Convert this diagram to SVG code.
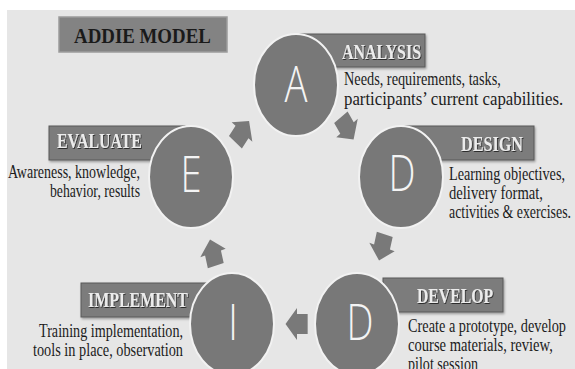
<svg xmlns="http://www.w3.org/2000/svg" xmlns:xlink="http://www.w3.org/1999/xlink" width="575" height="369" viewBox="0 0 575 369">
<style>
.bg{fill:#e6e6e6}
.box{fill:#7b7b7b;stroke:#5a5a5a;stroke-width:1}
.circ{fill:#787878;stroke:#f2f2f2;stroke-width:2}
.letter{font-family:"Open Sans","Noto Sans",sans-serif;font-weight:300;font-size:49px;fill:#f4f4f4;text-anchor:middle}
.lbl{font-family:"Liberation Serif","Times New Roman",serif;font-weight:bold;font-size:20px;fill:#ececec;filter:url(#ts)}
.desc{font-family:"Liberation Serif","Times New Roman",serif;font-size:18px;fill:#1c1c1c}
.arrow{fill:#797979}
</style>
<defs>
<filter id="ts" x="-10%" y="-30%" width="120%" height="160%">
<feDropShadow dx="1" dy="1" stdDeviation="0.6" flood-color="#222" flood-opacity="0.9"/>
</filter>
<filter id="bs" x="-10%" y="-20%" width="120%" height="150%">
<feDropShadow dx="1" dy="1.5" stdDeviation="1" flood-color="#000" flood-opacity="0.35"/>
</filter>
<path id="arr" d="M-13,-10 L0,-10 L0,-16 L14,0 L0,16 L0,10 L-13,10 Z"/>
</defs>
<rect x="0" y="0" width="575" height="369" fill="#ffffff"/>
<rect class="bg" x="7" y="10" width="568" height="359"/>

<g id="title">
<rect x="59" y="17" width="168" height="35" fill="#838383" stroke="#9c9c9c" stroke-width="1.5"/>
<text transform="translate(74,43) scale(0.8,1)" font-family="Liberation Serif,serif" font-weight="bold" font-size="21" fill="#1a1a1a" textLength="171" lengthAdjust="spacingAndGlyphs">ADDIE MODEL</text>
</g>

<g id="connectors" class="arrow">
<use xlink:href="#arr" transform="translate(242,132) scale(0.82,1) rotate(-52)"/>
<use xlink:href="#arr" transform="translate(347,128) scale(0.82,1) rotate(55)"/>
<use xlink:href="#arr" transform="translate(382,247) scale(0.82,1) rotate(105)"/>
<use xlink:href="#arr" transform="translate(297,324) scale(0.82,1) rotate(180)"/>
<use xlink:href="#arr" transform="translate(213,253) scale(0.82,1) rotate(-105)"/>
</g>

<g id="analysis">
<rect class="box" x="300" y="34" width="125" height="33" filter="url(#bs)"/>
<ellipse class="circ" cx="296" cy="85" rx="42" ry="51"/>
<text class="letter" transform="translate(296,102) scale(0.78,1)">A</text>
<text class="lbl" transform="translate(342,59) scale(0.8,1)" textLength="98.75" lengthAdjust="spacingAndGlyphs">ANALYSIS</text>
<text class="desc" transform="translate(344,85) scale(0.8,1)" textLength="196" lengthAdjust="spacingAndGlyphs">Needs, requirements, tasks,</text>
<text class="desc" transform="translate(344,105) scale(0.8,1)" textLength="274" lengthAdjust="spacingAndGlyphs">participants’ current capabilities.</text>
</g>

<g id="design">
<rect class="box" x="405" y="126" width="129" height="34" filter="url(#bs)"/>
<ellipse class="circ" cx="401" cy="177" rx="42" ry="51"/>
<text class="letter" transform="translate(402,191) scale(0.78,1)">D</text>
<text class="lbl" transform="translate(461,151) scale(0.8,1)" textLength="77.5" lengthAdjust="spacingAndGlyphs">DESIGN</text>
<text class="desc" transform="translate(449,180) scale(0.8,1)" textLength="145" lengthAdjust="spacingAndGlyphs">Learning objectives,</text>
<text class="desc" transform="translate(449,199) scale(0.8,1)" textLength="117.5" lengthAdjust="spacingAndGlyphs">delivery format,</text>
<text class="desc" transform="translate(449,218) scale(0.8,1)" textLength="152.5" lengthAdjust="spacingAndGlyphs">activities &amp; exercises.</text>
</g>

<g id="develop">
<rect class="box" x="383" y="278" width="120" height="34" filter="url(#bs)"/>
<ellipse class="circ" cx="357" cy="324" rx="42" ry="51"/>
<text class="letter" transform="translate(360,340) scale(0.78,1)">D</text>
<text class="lbl" transform="translate(417,303) scale(0.8,1)" textLength="95" lengthAdjust="spacingAndGlyphs">DEVELOP</text>
<text class="desc" transform="translate(408,332) scale(0.8,1)" textLength="197.5" lengthAdjust="spacingAndGlyphs">Create a prototype, develop</text>
<text class="desc" transform="translate(408,351) scale(0.8,1)" textLength="181" lengthAdjust="spacingAndGlyphs">course materials, review,</text>
<text class="desc" transform="translate(408,370) scale(0.8,1)" textLength="87.5" lengthAdjust="spacingAndGlyphs">pilot session</text>
</g>

<g id="implement">
<rect class="box" x="81" y="283" width="135" height="34" filter="url(#bs)"/>
<ellipse class="circ" cx="232" cy="324" rx="42" ry="51"/>
<text class="letter" transform="translate(233,340) scale(0.78,1)">I</text>
<text class="lbl" transform="translate(88,307) scale(0.8,1)" textLength="125" lengthAdjust="spacingAndGlyphs">IMPLEMENT</text>
<text class="desc" transform="translate(183,337) scale(0.8,1)" text-anchor="end" textLength="180" lengthAdjust="spacingAndGlyphs">Training implementation,</text>
<text class="desc" transform="translate(183,356) scale(0.8,1)" text-anchor="end" textLength="187.5" lengthAdjust="spacingAndGlyphs">tools in place, observation</text>
</g>

<g id="evaluate">
<rect class="box" x="49" y="126" width="136" height="34" filter="url(#bs)"/>
<ellipse class="circ" cx="191" cy="177" rx="42" ry="51"/>
<text class="letter" transform="translate(191,192) scale(0.78,1)">E</text>
<text class="lbl" transform="translate(57,148) scale(0.8,1)" textLength="106" lengthAdjust="spacingAndGlyphs">EVALUATE</text>
<text class="desc" transform="translate(140,178) scale(0.8,1)" text-anchor="end" textLength="165" lengthAdjust="spacingAndGlyphs">Awareness, knowledge,</text>
<text class="desc" transform="translate(140,197) scale(0.8,1)" text-anchor="end" textLength="112.5" lengthAdjust="spacingAndGlyphs">behavior, results</text>
</g>
</svg>
